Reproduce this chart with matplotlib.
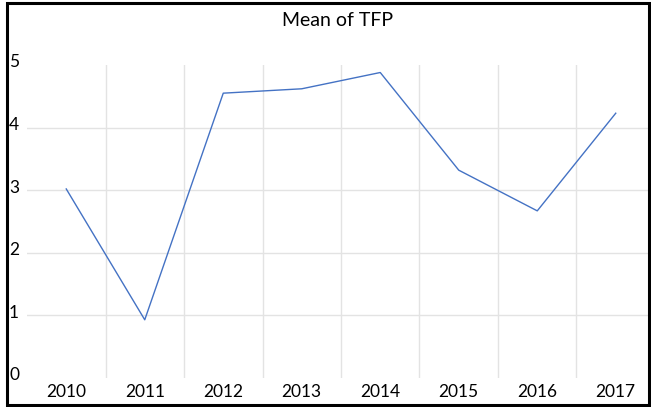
import matplotlib.pyplot as plt
from matplotlib.patches import Rectangle
from matplotlib.transforms import blended_transform_factory

plt.rcParams['font.family'] = ['Lato', 'DejaVu Sans']

years = ['2010', '2011', '2012', '2013', '2014', '2015', '2016', '2017']
mean_tfp = [3.02, 0.93, 4.55, 4.62, 4.88, 3.32, 2.67, 4.23]
y_ticks = [0, 1, 2, 3, 4, 5]

W, H = 651, 407
fig = plt.figure(figsize=(W / 100, H / 100), dpi=100)
ax = fig.add_axes([27 / W, 29 / H, 628 / W, 313 / H])

x = list(range(len(years)))
ax.set_xlim(-0.5, len(years) - 0.5)
ax.set_ylim(0, 5)

# gridlines, Excel style
for v in y_ticks[1:-1]:
    ax.axhline(v, color='#E3E3E3', lw=1, zorder=0)
for i in range(len(years) - 1):
    ax.plot([i + 0.5, i + 0.5], [0, 5], color='#E3E3E3', lw=1, zorder=0)

ax.plot(x, mean_tfp, color='#4472C4', lw=1, zorder=3)

for s in ax.spines.values():
    s.set_visible(False)
ax.set_xticks([])
ax.set_yticks([])

# tick labels
trans_y = blended_transform_factory(fig.transFigure, ax.transData)
for v in y_ticks:
    ax.text(9 / W, v + 0.04, str(v), transform=trans_y, ha='left', va='center',
            fontsize=12.5, color='black', clip_on=False)
trans_x = blended_transform_factory(ax.transData, fig.transFigure)
for i, lab in enumerate(years):
    ax.text(i, 15 / H, lab, transform=trans_x, ha='center', va='center',
            fontsize=12.5, color='black', clip_on=False)

fig.text(338 / W, 1 - 20 / H, 'Mean of TFP', ha='center', va='center', fontsize=14)

# chart border
fig.patches.append(Rectangle((7 / W, 2 / H), 642 / W, 402 / H, transform=fig.transFigure,
                             fill=False, edgecolor='black', lw=2.2))

fig.savefig('out.png', dpi=100)
